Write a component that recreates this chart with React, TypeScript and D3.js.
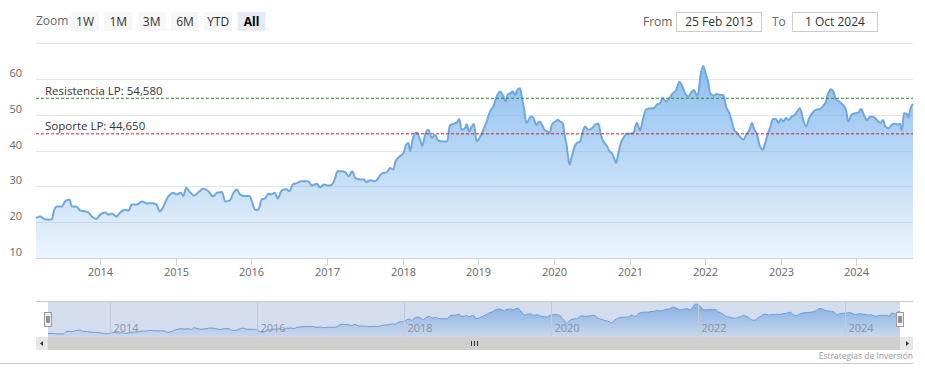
import React from 'react';
import * as d3 from 'd3';

const priceDates = [
  '2013-02-25','2013-03-17','2013-04-02','2013-04-26','2013-05-13','2013-05-24','2013-06-06','2013-06-30','2013-07-16','2013-08-06',
  '2013-08-17','2013-09-10','2013-09-26','2013-10-21','2013-11-05','2013-11-22','2013-12-13','2014-01-01','2014-01-25','2014-02-10',
  '2014-02-27','2014-03-19','2014-04-08','2014-05-02','2014-05-18','2014-06-03','2014-06-27','2014-07-21','2014-08-15','2014-09-08',
  '2014-09-29','2014-10-15','2014-11-03','2014-11-22','2014-12-05','2014-12-21','2015-01-06','2015-01-25','2015-02-07','2015-02-20',
  '2015-03-08','2015-03-31','2015-04-21','2015-05-15','2015-06-08','2015-06-30','2015-07-19','2015-08-12','2015-08-28','2015-09-18',
  '2015-10-07','2015-10-23','2015-11-08','2015-12-02','2015-12-23','2016-01-11','2016-01-19','2016-02-04','2016-02-20','2016-03-07',
  '2016-03-23','2016-04-08','2016-04-24','2016-05-08','2016-05-27','2016-06-17','2016-07-03','2016-07-19','2016-08-07','2016-09-01',
  '2016-09-17','2016-10-02','2016-10-19','2016-11-12','2016-11-28','2016-12-17','2017-01-07','2017-01-24','2017-02-09','2017-02-20',
  '2017-03-14','2017-03-30','2017-04-15','2017-05-02','2017-05-18','2017-06-11','2017-06-27','2017-07-10','2017-07-29','2017-08-23',
  '2017-09-08','2017-09-25','2017-10-16','2017-11-01','2017-11-17','2017-11-28','2017-12-19','2018-01-05','2018-01-18','2018-01-29',
  '2018-02-06','2018-02-19','2018-03-10','2018-03-26','2018-04-06','2018-04-19','2018-05-05','2018-05-22','2018-06-06','2018-06-22',
  '2018-07-16','2018-08-04','2018-08-17','2018-09-06','2018-09-19','2018-10-01','2018-10-13','2018-10-29','2018-11-06','2018-11-18',
  '2018-11-30','2018-12-11','2018-12-24','2019-01-09','2019-01-26','2019-02-11','2019-02-27','2019-03-15','2019-03-31','2019-04-16',
  '2019-04-29','2019-05-15','2019-05-22','2019-06-04','2019-06-17','2019-06-28','2019-07-09','2019-07-22','2019-07-30','2019-08-11',
  '2019-08-21','2019-09-01','2019-09-13','2019-09-25','2019-10-08','2019-10-24','2019-11-05','2019-11-16','2019-11-29','2019-12-12',
  '2019-12-23','2020-01-08','2020-01-21','2020-02-01','2020-02-14','2020-02-22','2020-03-04','2020-03-17','2020-03-28','2020-04-08',
  '2020-04-21','2020-05-07','2020-05-20','2020-05-31','2020-06-16','2020-07-03','2020-07-19','2020-08-04','2020-08-15','2020-08-28',
  '2020-09-13','2020-09-26','2020-10-07','2020-10-18','2020-10-28','2020-11-08','2020-11-20','2020-12-02','2020-12-19','2021-01-04',
  '2021-01-20','2021-02-05','2021-02-21','2021-03-06','2021-03-22','2021-04-10','2021-04-26','2021-05-13','2021-05-28','2021-06-10',
  '2021-06-26','2021-07-12','2021-07-29','2021-08-14','2021-08-30','2021-09-10','2021-09-26','2021-10-12','2021-10-29','2021-11-09',
  '2021-11-22','2021-11-29','2021-12-10','2021-12-23','2022-01-05','2022-01-17','2022-01-25','2022-02-10','2022-02-26','2022-03-14',
  '2022-03-30','2022-04-12','2022-04-28','2022-05-10','2022-05-21','2022-06-03','2022-06-19','2022-07-05','2022-07-18','2022-08-03',
  '2022-08-15','2022-08-27','2022-09-08','2022-09-20','2022-10-07','2022-10-18','2022-10-29','2022-11-11','2022-11-24','2022-12-10',
  '2022-12-21','2023-01-02','2023-01-14','2023-01-27','2023-02-07','2023-02-23','2023-03-11','2023-03-22','2023-04-04','2023-04-20',
  '2023-05-03','2023-05-19','2023-06-05','2023-06-21','2023-07-10','2023-07-23','2023-08-08','2023-08-19','2023-08-31','2023-09-12',
  '2023-09-25','2023-10-11','2023-10-27','2023-11-12','2023-11-23','2023-12-09','2023-12-25','2024-01-12','2024-01-24','2024-02-06',
  '2024-02-22','2024-03-09','2024-03-25','2024-04-10','2024-04-26','2024-05-09','2024-05-20','2024-06-05','2024-06-21','2024-07-07',
  '2024-07-18','2024-07-31','2024-08-08','2024-08-19','2024-09-01','2024-09-09','2024-09-17','2024-10-01',
];

const priceValues = [
  21.2,21.6,21.0,20.7,20.8,23.5,24.4,24.4,25.8,26.3,
  24.4,24.3,23.3,23.0,22.7,21.6,20.9,22.1,22.7,22.1,
  22.4,21.6,22.7,23.5,23.2,24.9,24.9,25.8,25.2,25.3,
  25.0,23.0,24.4,26.8,27.7,28.2,27.7,28.2,27.3,29.6,
  28.6,27.4,28.4,29.3,28.6,27.2,28.2,28.4,25.8,26.0,
  28.2,29.1,27.7,27.3,27.3,24.5,23.5,23.5,26.3,26.6,
  27.9,27.8,28.2,26.6,28.9,29.2,28.6,30.5,30.9,31.4,
  31.4,31.4,30.2,30.7,29.7,30.5,30.2,30.5,32.3,34.2,
  34.2,33.9,32.8,34.2,32.3,31.9,31.9,31.2,31.7,31.4,
  32.6,33.7,33.9,35.1,34.7,37.0,38.4,39.3,41.6,42.1,
  39.8,43.2,45.0,43.0,41.3,44.4,45.8,43.5,44.4,42.8,
  42.5,42.5,46.9,47.5,47.8,48.8,45.8,46.2,47.3,45.3,
  46.6,47.4,42.6,43.7,45.8,48.1,50.9,52.3,55.1,56.5,
  55.5,53.7,55.5,56.0,56.5,55.5,56.9,57.4,55.1,51.4,
  47.7,48.5,49.5,49.1,47.2,48.1,47.2,45.8,45.4,44.9,
  47.2,48.1,48.5,48.1,47.5,44.4,41.1,36.0,38.4,40.7,
  42.1,42.5,45.3,46.7,45.8,46.2,47.2,47.5,44.4,42.5,
  41.3,39.8,39.3,37.9,36.5,39.3,42.1,43.5,44.7,44.7,
  45.0,47.7,45.6,48.6,51.4,51.8,51.8,52.8,53.2,54.6,
  53.7,54.6,56.0,56.9,59.2,58.3,56.0,55.1,56.5,56.9,
  55.3,56.0,61.1,63.6,61.1,58.8,56.0,55.3,55.8,55.5,
  55.5,52.3,50.4,48.1,45.8,45.0,43.8,43.0,44.4,45.8,
  47.7,45.8,44.6,41.6,40.2,42.1,44.4,46.3,48.8,48.8,
  47.7,48.8,48.1,49.1,48.5,49.5,50.0,50.9,51.8,48.5,
  46.7,49.1,50.6,51.4,51.6,52.3,53.7,56.0,57.1,56.5,
  54.3,53.7,52.8,51.4,48.1,50.0,50.4,50.6,51.6,50.0,
  48.5,49.5,49.3,48.5,47.7,48.5,46.7,46.2,47.2,47.5,
  47.2,47.5,45.6,50.4,50.2,49.1,51.4,53.0,
];

const yearTicks = ['2014','2015','2016','2017','2018','2019','2020','2021','2022','2023','2024'];
const navigatorTicks = ['2014','2016','2018','2020','2022','2024'];
const yGridValues = [10, 20, 30, 40, 50, 60, 70];
const yLabelValues = [10, 20, 30, 40, 50, 60];
const zoomButtons = ['1W', '1M', '3M', '6M', 'YTD', 'All'];
const selectedButton = 'All';
const resistanceValue = 54.58;
const supportValue = 44.65;
const resistanceLabel = 'Resistencia LP: 54,580';
const supportLabel = 'Soporte LP: 44,650';
const fromDateLabel = '25 Feb 2013';
const toDateLabel = '1 Oct 2024';
const creditsLabel = 'Estrategias de Inversión';

const FONT = '"Open Sans", "Noto Sans", Arial, sans-serif';

export default function App() {
  const parse = d3.utcParse('%Y-%m-%d');
  const data = priceDates.map((d, i) => ({ date: parse(d) as Date, value: priceValues[i] }));
  const domain = [parse(priceDates[0]) as Date, parse(priceDates[priceDates.length - 1]) as Date];

  const plotLeft = 36, plotRight = 913, plotTop = 43, plotBottom = 258;
  const x = d3.scaleUtc().domain(domain).range([plotLeft, plotRight]);
  const y = d3.scaleLinear().domain([10, 70]).range([plotBottom, plotTop]);

  const navLeft = 48, navRight = 900, navTop = 301, navBottom = 337;
  const xN = d3.scaleUtc().domain(domain).range([navLeft, navRight]);
  const yN = d3.scaleLinear()
    .domain([d3.min(priceValues) as number, d3.max(priceValues) as number])
    .range([334, 304]);

  const area = d3.area<{ date: Date; value: number }>()
    .x(d => x(d.date)).y0(plotBottom).y1(d => y(d.value)).curve(d3.curveMonotoneX);
  const line = d3.line<{ date: Date; value: number }>()
    .x(d => x(d.date)).y(d => y(d.value)).curve(d3.curveMonotoneX);
  const areaN = d3.area<{ date: Date; value: number }>()
    .x(d => xN(d.date)).y0(navBottom).y1(d => yN(d.value)).curve(d3.curveMonotoneX);
  const lineN = d3.line<{ date: Date; value: number }>()
    .x(d => xN(d.date)).y(d => yN(d.value)).curve(d3.curveMonotoneX);

  const yearDate = (s: string) => parse(s + '-01-01') as Date;
  const btnX = d3.scaleLinear().domain([0, 1]).range([71, 104.33]);

  const scrollTop = 337, scrollH = 13;

  return (
    <svg width={925} height={376} style={{ position: 'absolute', left: 0, top: 0, fontFamily: FONT }}>
      <defs>
        <linearGradient id="mainFill" gradientUnits="userSpaceOnUse" x1="0" y1={y(64)} x2="0" y2={plotBottom}>
          <stop offset="0" stopColor="#7cb5ec" stopOpacity={0.88} />
          <stop offset="1" stopColor="#7cb5ec" stopOpacity={0.14} />
        </linearGradient>
        <linearGradient id="navFill" gradientUnits="userSpaceOnUse" x1="0" y1={304} x2="0" y2={navBottom}>
          <stop offset="0" stopColor="#7cb5ec" stopOpacity={0.85} />
          <stop offset="1" stopColor="#7cb5ec" stopOpacity={0.1} />
        </linearGradient>
      </defs>
      <rect x={0} y={0} width={925} height={376} fill="#ffffff" />

      {/* Range selector */}
      <text x={36} y={25} fontSize={12} fill="#666666">Zoom</text>
      {zoomButtons.map((b, i) => {
        const sel = b === selectedButton;
        return (
          <g key={b}>
            <rect x={btnX(i)} y={12} width={28} height={19} fill={sel ? '#e6ebf5' : '#f7f7f7'} />
            <text x={btnX(i) + 14} y={25.5} fontSize={12} textAnchor="middle"
              fill={sel ? '#000000' : '#333333'} fontWeight={sel ? 'bold' : 'normal'}>{b}</text>
          </g>
        );
      })}
      <text x={643} y={25.5} fontSize={12} fill="#666666">From</text>
      <rect x={676.5} y={12.5} width={85} height={19} fill="#ffffff" stroke="#cccccc" />
      <text x={719} y={26} fontSize={12} textAnchor="middle" fill="#333333">{fromDateLabel}</text>
      <text x={772} y={25.5} fontSize={12} fill="#666666">To</text>
      <rect x={792.5} y={12.5} width={85} height={19} fill="#ffffff" stroke="#cccccc" />
      <text x={835} y={26} fontSize={12} textAnchor="middle" fill="#333333">{toDateLabel}</text>

      {/* Grid */}
      {yGridValues.map(v => (
        <line key={v} x1={plotLeft} x2={plotRight} y1={Math.round(y(v)) + 0.5} y2={Math.round(y(v)) + 0.5}
          stroke="#e6e6e6" strokeWidth={1} />
      ))}
      {yLabelValues.map(v => (
        <text key={v} x={22} y={y(v) - 2} fontSize={11} textAnchor="end" fill="#666666">{v}</text>
      ))}

      {/* Series */}
      <path d={area(data) || ''} fill="url(#mainFill)" />
      <path d={line(data) || ''} fill="none" stroke="#6fa7df" strokeWidth={2} strokeLinejoin="round" />

      {/* Plot lines */}
      <line x1={plotLeft} x2={plotRight} y1={y(resistanceValue)} y2={y(resistanceValue)}
        stroke="#2e8b2e" strokeWidth={1} strokeDasharray="3,2" />
      <text x={45} y={y(resistanceValue) - 3} fontSize={11.5} fill="#333333">{resistanceLabel}</text>
      <line x1={plotLeft} x2={plotRight} y1={y(supportValue)} y2={y(supportValue)}
        stroke="#cc2233" strokeWidth={1} strokeDasharray="3,2" />
      <text x={45} y={y(supportValue) - 4} fontSize={11.5} fill="#333333">{supportLabel}</text>

      {/* X axis */}
      <line x1={plotLeft} x2={plotRight} y1={plotBottom + 0.5} y2={plotBottom + 0.5} stroke="#ccd6eb" />
      {yearTicks.map(t => {
        const px = Math.round(x(yearDate(t))) + 0.5;
        return (
          <g key={t}>
            <line x1={px} x2={px} y1={plotBottom} y2={plotBottom + 7} stroke="#ccd6eb" />
            <text x={px} y={276} fontSize={11} textAnchor="middle" fill="#666666">{t}</text>
          </g>
        );
      })}

      {/* Navigator */}
      <path d={areaN(data) || ''} fill="url(#navFill)" />
      <path d={lineN(data) || ''} fill="none" stroke="#6fa7df" strokeWidth={1} />
      {navigatorTicks.map(t => {
        const px = Math.round(xN(yearDate(t))) + 0.5;
        return (
          <g key={t}>
            <line x1={px} x2={px} y1={navTop} y2={navBottom} stroke="#e6e6e6" />
            <text x={px + 3} y={332} fontSize={11} fill="#999999">{t}</text>
          </g>
        );
      })}
      <rect x={navLeft} y={navTop} width={navRight - navLeft} height={navBottom - navTop}
        fill="rgba(102,133,194,0.28)" />
      <line x1={plotLeft} x2={plotRight} y1={navTop + 0.5} y2={navTop + 0.5} stroke="#cccccc" />
      {[navLeft, navRight].map((hx, i) => (
        <g key={i}>
          <rect x={hx - 3.5} y={312.5} width={7} height={14} fill="#f2f2f2" stroke="#999999" />
          <line x1={hx - 1} x2={hx - 1} y1={316} y2={323} stroke="#333333" />
          <line x1={hx + 1} x2={hx + 1} y1={316} y2={323} stroke="#333333" />
        </g>
      ))}

      {/* Scrollbar */}
      <rect x={plotLeft} y={scrollTop} width={plotRight - plotLeft} height={scrollH} fill="#f2f2f2" />
      <rect x={navLeft} y={scrollTop} width={navRight - navLeft} height={scrollH} fill="#cfcfcf" />
      <rect x={plotLeft} y={scrollTop} width={navLeft - plotLeft} height={scrollH} fill="#e6e6e6" />
      <rect x={navRight} y={scrollTop} width={plotRight - navRight} height={scrollH} fill="#e6e6e6" />
      <path d={`M ${plotLeft + 7} ${scrollTop + 4} L ${plotLeft + 4} ${scrollTop + 6.5} L ${plotLeft + 7} ${scrollTop + 9} Z`} fill="#333333" />
      <path d={`M ${plotRight - 7} ${scrollTop + 4} L ${plotRight - 4} ${scrollTop + 6.5} L ${plotRight - 7} ${scrollTop + 9} Z`} fill="#333333" />
      {[-3, 0, 3].map(o => {
        const cx = Math.round((navLeft + navRight) / 2) + 0.5 + o;
        return <line key={o} x1={cx} x2={cx} y1={scrollTop + 4} y2={scrollTop + 9} stroke="#333333" />;
      })}

      {/* Credits and frame */}
      <text x={913} y={359} fontSize={8.5} textAnchor="end" fill="#999999">{creditsLabel}</text>
      <line x1={0} x2={913} y1={363.5} y2={363.5} stroke="#cccccc" />
    </svg>
  );
}
